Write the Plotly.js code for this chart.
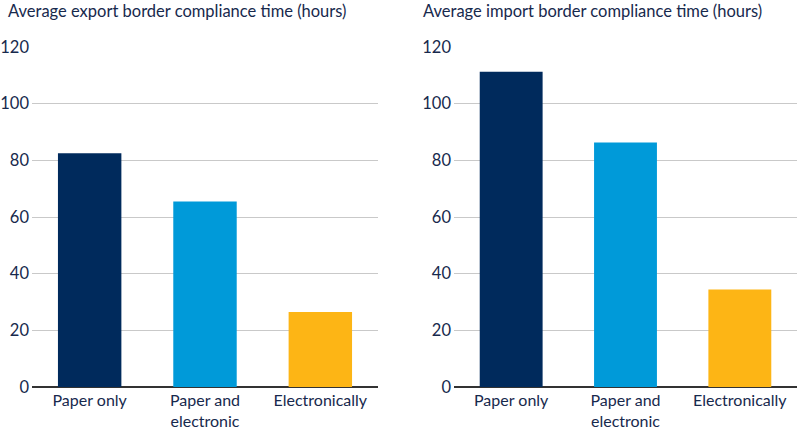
<!DOCTYPE html>
<html>
<head>
<meta charset="utf-8">
<script src="https://cdn.plot.ly/plotly-3.0.1.min.js"></script>
<style>
  html, body { margin: 0; padding: 0; background: #fff; }
  #chart { width: 800px; height: 432px; }
</style>
</head>
<body>
<div id="chart"></div>
<script>
// categories and values
var categories = ['Paper only', 'Paper and<br>electronic', 'Electronically'];
var exportHours = [82.5, 65.5, 26.5];
var importHours = [111.3, 86.3, 34.4];
var barColors = ['#002a5c', '#009ad9', '#fdb515'];
var yTicks = [0, 20, 40, 60, 80, 100, 120];

var textColor = '#17294d';
var fontFam = 'Lato, sans-serif';

var exportTrace = {
  x: categories,
  y: exportHours,
  type: 'bar',
  marker: { color: barColors },
  width: 0.55,
  xaxis: 'x',
  yaxis: 'y',
  hoverinfo: 'y'
};

var importTrace = {
  x: categories,
  y: importHours,
  type: 'bar',
  marker: { color: barColors },
  width: 0.55,
  xaxis: 'x2',
  yaxis: 'y2',
  hoverinfo: 'y'
};

// y axis shared look
function yAxis(anchor) {
  return {
    anchor: anchor,
    domain: [45 / 432, 385 / 432],
    range: [0, 120],
    tickvals: yTicks,
    showgrid: true,
    gridcolor: '#c9c9c9',
    gridwidth: 1,
    zeroline: true,
    zerolinecolor: '#333333',
    zerolinewidth: 2,
    showline: false,
    ticks: '',
    ticklabelstandoff: 2,
    tickfont: { size: 16.5, color: textColor, family: fontFam },
    fixedrange: true
  };
}

function xAxis(anchor, dom) {
  return {
    anchor: anchor,
    domain: dom,
    showgrid: false,
    showline: false,
    ticks: '',
    ticklabelstandoff: 2,
    tickfont: { size: 16, color: textColor, family: fontFam },
    fixedrange: true
  };
}

var layout = {
  width: 800,
  height: 432,
  margin: { t: 0, b: 0, l: 0, r: 0 },
  paper_bgcolor: '#ffffff',
  plot_bgcolor: '#ffffff',
  showlegend: false,
  font: { family: fontFam, color: textColor },
  xaxis: xAxis('y', [32 / 800, 378 / 800]),
  yaxis: yAxis('x'),
  xaxis2: xAxis('y2', [454 / 800, 797 / 800]),
  yaxis2: yAxis('x2'),
  annotations: [
    {
      text: 'Average export border compliance time (hours)',
      xref: 'paper', yref: 'paper',
      x: 6 / 800, y: 1 - 11 / 432,
      xanchor: 'left', yanchor: 'middle',
      showarrow: false,
      font: { size: 16.5, color: textColor, family: fontFam }
    },
    {
      text: 'Average import border compliance time (hours)',
      xref: 'paper', yref: 'paper',
      x: 421 / 800, y: 1 - 11 / 432,
      xanchor: 'left', yanchor: 'middle',
      showarrow: false,
      font: { size: 16.5, color: textColor, family: fontFam }
    }
  ]
};

Plotly.newPlot('chart', [exportTrace, importTrace], layout, { displayModeBar: false, staticPlot: true });
</script>
</body>
</html>
